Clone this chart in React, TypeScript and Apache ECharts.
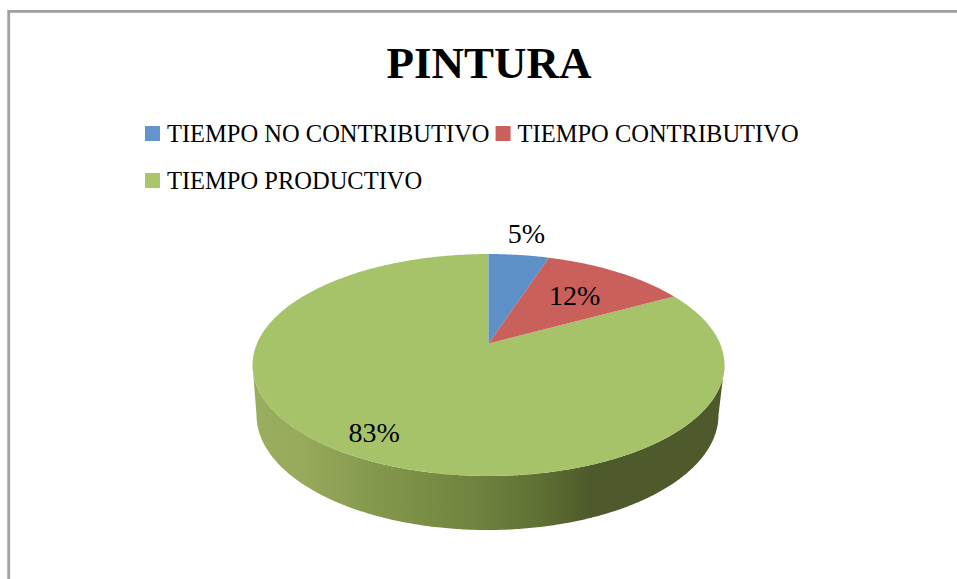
import React, { useEffect, useRef } from "react";
import * as echarts from "echarts";

const chartTitle = "PINTURA";
const categories = ["TIEMPO NO CONTRIBUTIVO", "TIEMPO CONTRIBUTIVO", "TIEMPO PRODUCTIVO"];
const shares = [5, 12, 83];
const colors = ["#5c90c6", "#c9605c", "#a6c36a"];
const legendColors = ["#6096cc", "#c9605c", "#abc56b"];
const labelRadius = [1.31, 0.64, 0.835];

const FONT = '"Liberation Serif", serif';
const TOTAL = shares.reduce((a, b) => a + b, 0);

// Perspective view of the pie's top face
const CX = 488.5;
const CY = 343.5;
const RX = 231.5;
const RY = 106.8;
const K = 0.1937;
// Lower rim of the wall
const LOW_CX = 487.5;
const LOW_CY = 415;
const LOW_RX = 231;
const LOW_RY = 115;

const TAU = Math.PI * 2;
const tangent = Math.acos(-K);

function topPoint(theta: number, r = 1): number[] {
  const w = 1 + K * r * Math.cos(theta);
  return [CX + (RX * r * Math.sin(theta)) / w, CY - (RY * r * Math.cos(theta)) / w];
}

function lowPoint(theta: number): number[] {
  const phi = Math.PI / 2 + ((theta - tangent) * Math.PI) / (TAU - 2 * tangent);
  return [LOW_CX + LOW_RX * Math.sin(phi), LOW_CY - LOW_RY * Math.cos(phi)];
}

function arc(a: number, b: number, fn: (t: number) => number[]): number[][] {
  const n = Math.max(2, Math.ceil((b - a) / 0.01));
  const pts: number[][] = [];
  for (let i = 0; i <= n; i++) pts.push(fn(a + ((b - a) * i) / n));
  return pts;
}

const wallFill = new echarts.graphic.LinearGradient(
  CX - 236, 0, CX + 236, 0,
  [
    { offset: 0, color: "#9aae5e" },
    { offset: 0.11, color: "#97a95b" },
    { offset: 0.25, color: "#85994d" },
    { offset: 0.47, color: "#70833f" },
    { offset: 0.61, color: "#5f7033" },
    { offset: 0.715, color: "#4e5a2b" },
    { offset: 1, color: "#4f5a2c" },
  ],
  true
);

function makeRender(index: number) {
  return (_params: any, api: any) => {
    const value = api.value(0);
    const before = shares.slice(0, index).reduce((a, b) => a + b, 0);
    const start = (before / TOTAL) * TAU;
    const end = ((before + value) / TOTAL) * TAU;
    const children: any[] = [];

    const wa = Math.max(start, tangent);
    const wb = Math.min(end, TAU - tangent);
    if (wb > wa) {
      children.push({
        type: "polygon",
        shape: { points: [...arc(wa, wb, (t) => topPoint(t)), ...arc(wa, wb, lowPoint).reverse()] },
        style: { fill: wallFill },
      });
    }

    children.push({
      type: "polygon",
      shape: { points: [[CX, CY], ...arc(start, end, (t) => topPoint(t))] },
      style: { fill: colors[index] },
    });

    const [lx, ly] = topPoint((start + end) / 2, labelRadius[index]);
    children.push({
      type: "text",
      z2: 10,
      style: {
        text: `${value}%`,
        x: lx,
        y: ly,
        align: "center",
        verticalAlign: "middle",
        fill: "#000000",
        font: `28px ${FONT}`,
      },
    });
    return { type: "group", children };
  };
}

export default function App() {
  const ref = useRef<HTMLDivElement>(null);

  useEffect(() => {
    document.body.style.margin = "0";
    const chart = echarts.init(ref.current!, undefined, { renderer: "svg" });
    const legendBase = {
      orient: "horizontal" as const,
      icon: "rect",
      itemWidth: 15,
      itemHeight: 15,
      itemGap: 6,
      padding: 0,
      selectedMode: false,
      textStyle: { fontFamily: FONT, fontSize: 24.5, color: "#000000", padding: [0, 0, 0, 2] },
    };
    chart.setOption({
      animation: false,
      backgroundColor: "#ffffff",
      title: {
        text: chartTitle,
        left: 386.5,
        top: 40,
        padding: 0,
        textStyle: { fontFamily: FONT, fontSize: 45, fontWeight: "bold", color: "#000000" },
      },
      legend: [
        { ...legendBase, left: 145, top: 121, data: categories.slice(0, 2) },
        { ...legendBase, left: 145, top: 168, data: categories.slice(2) },
      ],
      graphic: [
        {
          type: "polyline",
          shape: { points: [[8.7, 579], [8.7, 11.4], [957, 11.4]] },
          style: { fill: "none", stroke: "#a0a0a0", lineWidth: 2.8 },
        },
      ],
      series: categories.map((name, i) => ({
        type: "custom",
        name,
        coordinateSystem: "none",
        silent: true,
        itemStyle: { color: legendColors[i] },
        data: [[shares[i]]],
        renderItem: makeRender(i),
        z: i === 2 ? 2 : 3,
      })),
    });
    return () => chart.dispose();
  }, []);

  return <div ref={ref} style={{ position: "absolute", left: 0, top: 0, width: 957, height: 579 }} />;
}
